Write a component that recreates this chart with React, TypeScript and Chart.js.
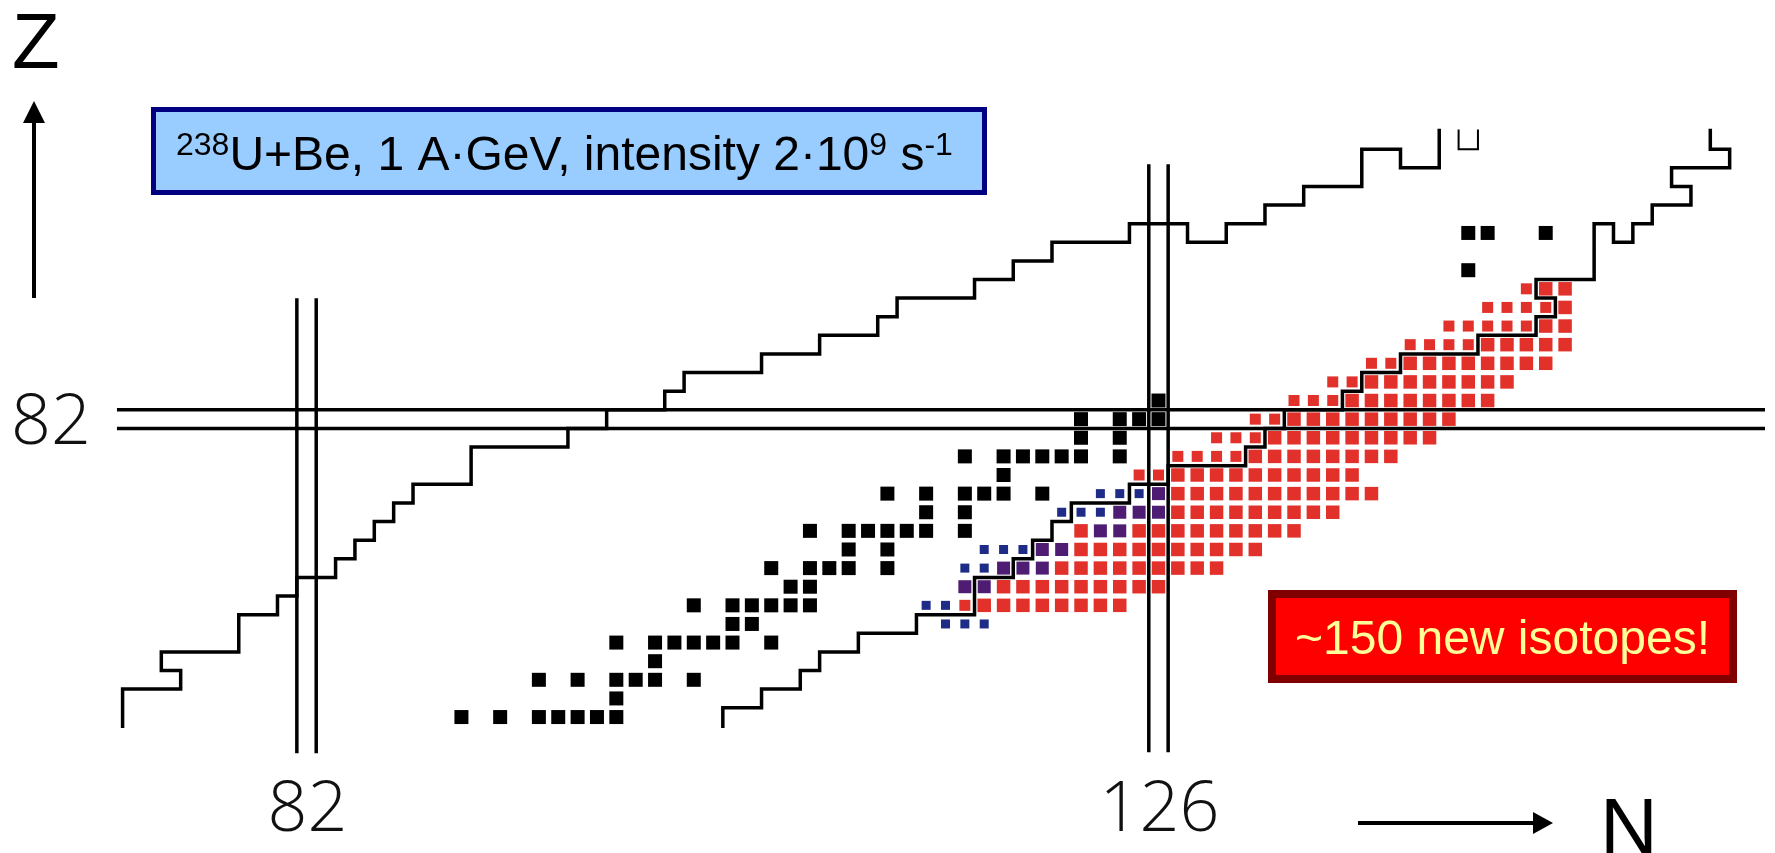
import React, { useEffect, useRef } from "react";
import { Chart, registerables } from "chart.js";

Chart.register(...registerables);

// ---------------- data (N = neutron number, Z = proton number) ----------------
const nView: [number, number] = [66.68, 157.33];
const zView: [number, number] = [59.23, 103.98];

const xTickValues = [82, 126];
const yTickValues = [82];

// magic numbers, drawn as double lines on the cell edges
const magicN = [82, 126];
const magicNZExtent: [number, number][] = [
  [64.15, 88.4],
  [64.2, 95.6],
];
const magicZ = [82];
const magicZNExtent: [number, number] = [72.3, 158];

// stable isotopes (black)  [Z, N list]
const stableIsotopes: [number, number[]][] = [
  [66, [90, 92, 94, 95, 96, 97, 98]],
  [67, [98]],
  [68, [94, 96, 98, 99, 100, 102]],
  [69, [100]],
  [70, [98, 100, 101, 102, 103, 104, 106]],
  [71, [104, 105]],
  [72, [102, 104, 105, 106, 107, 108]],
  [73, [107, 108]],
  [74, [106, 108, 109, 110, 112]],
  [75, [110, 112]],
  [76, [108, 110, 111, 112, 113, 114, 116]],
  [77, [114, 116]],
  [78, [112, 114, 116, 117, 118, 120]],
  [79, [118]],
  [80, [116, 118, 119, 120, 121, 122, 124]],
  [81, [122, 124]],
  [82, [122, 124, 125, 126]],
  [83, [126]],
  [90, [142]],
  [92, [142, 143, 146]],
];

// observed, already known (small red)
const knownRed: [number, number[]][] = [
  [72, [116]],
  [79, [125, 126]],
  [80, [127, 128, 129, 130]],
  [81, [129, 130, 131]],
  [82, [131, 132]],
  [83, [133, 134, 135]],
  [84, [135, 136]],
  [85, [137, 138]],
  [86, [139, 140, 141, 142]],
  [87, [141, 142, 143, 144, 145]],
  [88, [143, 144, 145, 146]],
  [89, [145]],
];

// new isotopes (large red)
const newRed: [number, number[]][] = [
  [72, [117, 118, 119, 120, 121, 122, 123, 124]],
  [73, [118, 119, 120, 121, 122, 123, 124, 125, 126]],
  [74, [121, 122, 123, 124, 125, 126, 127, 128, 129]],
  [75, [122, 123, 124, 125, 126, 127, 128, 129, 130, 131]],
  [76, [122, 125, 126, 127, 128, 129, 130, 131, 132, 133]],
  [77, [127, 128, 129, 130, 131, 132, 133, 134, 135]],
  [78, [127, 128, 129, 130, 131, 132, 133, 134, 135, 136, 137]],
  [79, [127, 128, 129, 130, 131, 132, 133, 134, 135, 136]],
  [80, [131, 132, 133, 134, 135, 136, 137, 138]],
  [81, [132, 133, 134, 135, 136, 137, 138, 139, 140]],
  [82, [133, 134, 135, 136, 137, 138, 139, 140, 141]],
  [83, [136, 137, 138, 139, 140, 141, 142, 143]],
  [84, [137, 138, 139, 140, 141, 142, 143, 144]],
  [85, [139, 140, 141, 142, 143, 144, 145, 146]],
  [86, [143, 144, 145, 146, 147]],
  [87, [146, 147]],
  [88, [147]],
  [89, [146, 147]],
];

// purple cells
const newPurple: [number, number[]][] = [
  [73, [116, 117]],
  [74, [118, 119, 120]],
  [75, [120, 121]],
  [76, [123, 124]],
  [77, [124, 125, 126]],
  [78, [126]],
];

// blue cells
const knownBlue: [number, number[]][] = [
  [71, [115, 116, 117]],
  [72, [114, 115]],
  [74, [116, 117]],
  [75, [117, 118, 119]],
  [77, [121, 122, 123]],
  [78, [123, 124, 125]],
];

// limits of the known isotopes (cell-edge vertices [N, Z])
const protonSideLimit: [number, number][] = [
  [72.5, 65.5], [72.5, 67.5], [75.5, 67.5], [75.5, 68.5], [74.5, 68.5], [74.5, 69.5],
  [78.5, 69.5], [78.5, 71.5], [80.5, 71.5], [80.5, 72.5], [81.5, 72.5], [81.5, 73.5],
  [83.5, 73.5], [83.5, 74.5], [84.5, 74.5], [84.5, 75.5], [85.5, 75.5], [85.5, 76.5],
  [86.5, 76.5], [86.5, 77.5], [87.5, 77.5], [87.5, 78.5], [90.5, 78.5], [90.5, 80.5],
  [95.5, 80.5], [95.5, 81.5], [97.5, 81.5], [97.5, 82.5], [100.5, 82.5], [100.5, 83.5],
  [101.5, 83.5], [101.5, 84.5], [105.5, 84.5], [105.5, 85.5], [108.5, 85.5], [108.5, 86.5],
  [111.5, 86.5], [111.5, 87.5], [112.5, 87.5], [112.5, 88.5], [116.5, 88.5], [116.5, 89.5],
  [118.5, 89.5], [118.5, 90.5], [120.5, 90.5], [120.5, 91.5], [124.5, 91.5], [124.5, 92.5],
  [127.5, 92.5], [127.5, 91.5], [129.5, 91.5], [129.5, 92.5], [131.5, 92.5], [131.5, 93.5],
  [133.5, 93.5], [133.5, 94.5], [136.5, 94.5], [136.5, 96.5], [138.5, 96.5], [138.5, 95.5],
  [140.5, 95.5], [140.5, 97.5],
];
const uraniumCell: [number, number][] = [
  [141.5, 97.5], [141.5, 96.5], [142.5, 96.5], [142.5, 97.5],
];
const neutronSideLimit: [number, number][] = [
  [103.5, 65.5], [103.5, 66.5], [105.5, 66.5], [105.5, 67.5], [107.5, 67.5], [107.5, 68.5],
  [108.5, 68.5], [108.5, 69.5], [110.5, 69.5], [110.5, 70.5], [113.5, 70.5], [113.5, 71.5],
  [116.5, 71.5], [116.5, 73.5], [118.5, 73.5], [118.5, 74.5], [119.5, 74.5], [119.5, 75.5],
  [120.5, 75.5], [120.5, 76.5], [121.5, 76.5], [121.5, 77.5], [124.5, 77.5], [124.5, 78.5],
  [126.5, 78.5], [126.5, 79.5], [130.5, 79.5], [130.5, 80.5], [131.5, 80.5], [131.5, 81.5],
  [132.5, 81.5], [132.5, 82.5], [135.5, 82.5], [135.5, 83.5], [136.5, 83.5], [136.5, 84.5],
  [138.5, 84.5], [138.5, 85.5], [142.5, 85.5], [142.5, 86.5], [145.5, 86.5], [145.5, 87.5],
  [146.5, 87.5], [146.5, 88.5], [145.5, 88.5], [145.5, 89.5], [148.5, 89.5], [148.5, 92.5],
  [149.5, 92.5], [149.5, 91.5], [150.5, 91.5], [150.5, 92.5], [151.5, 92.5], [151.5, 93.5],
  [153.5, 93.5], [153.5, 94.5], [152.5, 94.5], [152.5, 95.5], [155.5, 95.5], [155.5, 96.5],
  [154.5, 96.5], [154.5, 97.5],
];

const zLabel = "Z";
const nLabel = "N";
const beamText: [string, boolean][] = [
  ["238", true],
  ["U+Be, 1 A·GeV, intensity 2·10", false],
  ["9", true],
  [" s", false],
  ["-1", true],
];
const noteText = "~150 new isotopes!";

// ---------------- helpers ----------------
const cells = (rows: [number, number[]][]) =>
  rows.flatMap(([z, ns]) => ns.map((n) => ({ x: n, y: z })));
const path = (pts: [number, number][]) => pts.map(([n, z]) => ({ x: n, y: z }));

const square = (label: string, rows: [number, number[]][], color: string, side: number) => ({
  label,
  data: cells(rows),
  pointStyle: "rect",
  pointRadius: side / (2 * Math.SQRT1_2),
  pointHoverRadius: side / (2 * Math.SQRT1_2),
  pointBackgroundColor: color,
  pointBorderWidth: 0,
  backgroundColor: color,
  borderColor: color,
  showLine: false,
});

const line = (label: string, pts: { x: number; y: number }[], width = 3.5) => ({
  label,
  data: pts,
  showLine: true,
  borderColor: "#000",
  borderWidth: width,
  pointRadius: 0,
  pointHoverRadius: 0,
  fill: false,
  tension: 0,
  borderJoinStyle: "miter",
  borderCapStyle: "square",
});

const SANS = '"Liberation Sans", Arial, sans-serif';

const decorations = {
  id: "decorations",
  afterDraw(chart: any) {
    const { ctx, scales } = chart;
    const xs = scales.x;
    const ys = scales.y;
    ctx.save();

    // tick labels (magic numbers)
    ctx.fillStyle = "#111";
    ctx.font = '300 70px "Open Sans"';
    ctx.textAlign = "center";
    ctx.textBaseline = "alphabetic";
    for (const v of xTickValues) ctx.fillText(String(v), xs.getPixelForValue(v) + 1, 831);
    for (const v of yTickValues) ctx.fillText(String(v), 51, ys.getPixelForValue(v) + 25);

    // axis arrows
    ctx.strokeStyle = "#000";
    ctx.fillStyle = "#000";
    ctx.lineWidth = 4;
    ctx.beginPath();
    ctx.moveTo(34, 298);
    ctx.lineTo(34, 118);
    ctx.stroke();
    ctx.beginPath();
    ctx.moveTo(34, 101);
    ctx.lineTo(23, 123);
    ctx.lineTo(45, 123);
    ctx.closePath();
    ctx.fill();

    ctx.beginPath();
    ctx.moveTo(1358, 823);
    ctx.lineTo(1537, 823);
    ctx.stroke();
    ctx.beginPath();
    ctx.moveTo(1553, 823);
    ctx.lineTo(1533, 812);
    ctx.lineTo(1533, 834);
    ctx.closePath();
    ctx.fill();

    ctx.textAlign = "left";
    ctx.font = "78px " + SANS;
    ctx.fillText(zLabel, 12, 68);
    ctx.font = "80px " + SANS;
    ctx.fillText(nLabel, 1600, 854);

    // beam box
    ctx.fillStyle = "#99CCFF";
    ctx.fillRect(151, 107, 836, 88);
    ctx.strokeStyle = "#000080";
    ctx.lineWidth = 5;
    ctx.strokeRect(153.5, 109.5, 831, 83);
    ctx.fillStyle = "#000";
    let x = 176;
    for (const [t, sup] of beamText) {
      ctx.font = (sup ? "32px " : "48px ") + SANS;
      ctx.fillText(t, x, sup ? 155 : 170);
      x += ctx.measureText(t).width;
    }

    // note box
    ctx.fillStyle = "#FF0000";
    ctx.fillRect(1268, 590, 469, 93);
    ctx.strokeStyle = "#800000";
    ctx.lineWidth = 8;
    ctx.strokeRect(1272, 594, 461, 85);
    ctx.fillStyle = "#FFFF99";
    ctx.textAlign = "center";
    ctx.font = "48px " + SANS;
    ctx.fillText(noteText, 1502.5, 654);

    ctx.restore();
  },
};

export default function App() {
  const ref = useRef<HTMLCanvasElement | null>(null);

  useEffect(() => {
    if (!ref.current) return;

    const magicLines: any[] = [];
    magicN.forEach((n, i) => {
      const [z0, z1] = magicNZExtent[i];
      for (const e of [-0.5, 0.5])
        magicLines.push(line(`N=${n}`, [{ x: n + e, y: z0 }, { x: n + e, y: z1 }]));
    });
    magicZ.forEach((z) => {
      for (const e of [-0.5, 0.5])
        magicLines.push(
          line(`Z=${z}`, [{ x: magicZNExtent[0], y: z + e }, { x: magicZNExtent[1], y: z + e }])
        );
    });

    const chart = new Chart(ref.current, {
      type: "scatter",
      data: {
        datasets: [
          line("proton-side limit", path(protonSideLimit)),
          line("U cell", path(uraniumCell), 2),
          line("neutron-side limit", path(neutronSideLimit)),
          ...magicLines,
          square("stable", stableIsotopes, "#000000", 14),
          square("new (purple)", newPurple, "#4E1C72", 13),
          square("known (blue)", knownBlue, "#1E2C88", 9),
          square("new (red)", newRed, "#E2302A", 13.5),
          square("known (red)", knownRed, "#E2302A", 11),
        ] as any,
      },
      options: {
        animation: false,
        responsive: false,
        events: [],
        layout: { padding: 0 },
        plugins: {
          legend: { display: false },
          tooltip: { enabled: false },
          title: { display: false },
        },
        scales: {
          x: { type: "linear", min: nView[0], max: nView[1], display: false },
          y: { type: "linear", min: zView[0], max: zView[1], display: false },
        },
      } as any,
      plugins: [decorations],
    });
    return () => chart.destroy();
  }, []);

  return (
    <div style={{ position: "fixed", left: 0, top: 0, width: 1775, height: 853, background: "#fff" }}>
      <canvas ref={ref} width={1775} height={853} style={{ display: "block" }} />
    </div>
  );
}
